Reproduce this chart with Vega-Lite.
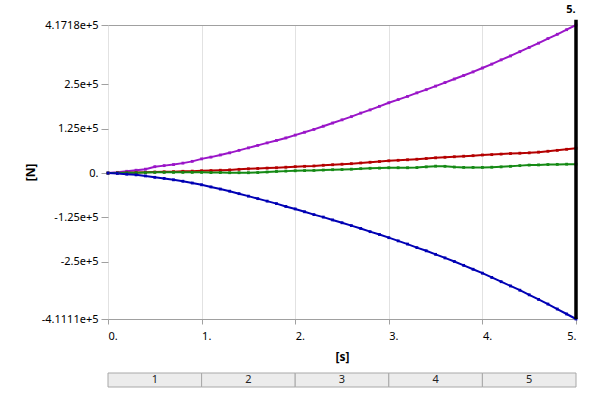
{
  "$schema": "https://vega.github.io/schema/vega-lite/v6.json",
  "padding": {"left": 24, "top": 4, "right": 10, "bottom": 5},
  "background": "white",
  "spacing": 10,
  "config": {
    "view": {"stroke": null},
    "font": "Noto Sans",
    "axis": {"labelFont": "Noto Sans", "labelFontSize": 11, "labelColor": "#000000", "titleFont": "Noto Sans", "titleColor": "#000000"}
  },
  "datasets": {
    "forces": [
      {"t":0.0,"s":"s1","v":0},{"t":0.1,"s":"s1","v":2000},{"t":0.2,"s":"s1","v":5000},{"t":0.3,"s":"s1","v":8000},{"t":0.4,"s":"s1","v":11000},{"t":0.5,"s":"s1","v":18000},{"t":0.6,"s":"s1","v":21000},{"t":0.7,"s":"s1","v":24000},{"t":0.8,"s":"s1","v":28000},{"t":0.9,"s":"s1","v":33000},
      {"t":1.0,"s":"s1","v":40000},{"t":1.1,"s":"s1","v":45000},{"t":1.2,"s":"s1","v":51000},{"t":1.3,"s":"s1","v":57000},{"t":1.4,"s":"s1","v":64000},{"t":1.5,"s":"s1","v":71000},{"t":1.6,"s":"s1","v":78000},{"t":1.7,"s":"s1","v":85000},{"t":1.8,"s":"s1","v":92000},{"t":1.9,"s":"s1","v":99000},
      {"t":2.0,"s":"s1","v":107000},{"t":2.1,"s":"s1","v":115000},{"t":2.2,"s":"s1","v":123000},{"t":2.3,"s":"s1","v":132000},{"t":2.4,"s":"s1","v":141000},{"t":2.5,"s":"s1","v":150000},{"t":2.6,"s":"s1","v":159000},{"t":2.7,"s":"s1","v":169000},{"t":2.8,"s":"s1","v":178000},{"t":2.9,"s":"s1","v":188000},
      {"t":3.0,"s":"s1","v":198000},{"t":3.1,"s":"s1","v":207000},{"t":3.2,"s":"s1","v":216000},{"t":3.3,"s":"s1","v":226000},{"t":3.4,"s":"s1","v":235000},{"t":3.5,"s":"s1","v":245000},{"t":3.6,"s":"s1","v":255000},{"t":3.7,"s":"s1","v":265000},{"t":3.8,"s":"s1","v":275000},{"t":3.9,"s":"s1","v":285000},
      {"t":4.0,"s":"s1","v":296000},{"t":4.1,"s":"s1","v":307000},{"t":4.2,"s":"s1","v":319000},{"t":4.3,"s":"s1","v":330000},{"t":4.4,"s":"s1","v":342000},{"t":4.5,"s":"s1","v":354000},{"t":4.6,"s":"s1","v":366000},{"t":4.7,"s":"s1","v":379000},{"t":4.8,"s":"s1","v":391000},{"t":4.9,"s":"s1","v":404000},{"t":5.0,"s":"s1","v":417180},

      {"t":0.0,"s":"s2","v":0},{"t":0.1,"s":"s2","v":500},{"t":0.2,"s":"s2","v":1000},{"t":0.3,"s":"s2","v":1500},{"t":0.4,"s":"s2","v":2000},{"t":0.5,"s":"s2","v":3000},{"t":0.6,"s":"s2","v":3500},{"t":0.7,"s":"s2","v":4000},{"t":0.8,"s":"s2","v":5000},{"t":0.9,"s":"s2","v":5500},
      {"t":1.0,"s":"s2","v":6500},{"t":1.1,"s":"s2","v":7000},{"t":1.2,"s":"s2","v":8000},{"t":1.3,"s":"s2","v":9000},{"t":1.4,"s":"s2","v":10500},{"t":1.5,"s":"s2","v":12000},{"t":1.6,"s":"s2","v":13000},{"t":1.7,"s":"s2","v":14000},{"t":1.8,"s":"s2","v":15000},{"t":1.9,"s":"s2","v":16500},
      {"t":2.0,"s":"s2","v":18000},{"t":2.1,"s":"s2","v":19000},{"t":2.2,"s":"s2","v":20000},{"t":2.3,"s":"s2","v":22000},{"t":2.4,"s":"s2","v":23500},{"t":2.5,"s":"s2","v":25000},{"t":2.6,"s":"s2","v":26500},{"t":2.7,"s":"s2","v":28500},{"t":2.8,"s":"s2","v":30500},{"t":2.9,"s":"s2","v":32500},
      {"t":3.0,"s":"s2","v":34500},{"t":3.1,"s":"s2","v":36000},{"t":3.2,"s":"s2","v":37500},{"t":3.3,"s":"s2","v":39000},{"t":3.4,"s":"s2","v":41000},{"t":3.5,"s":"s2","v":43000},{"t":3.6,"s":"s2","v":44500},{"t":3.7,"s":"s2","v":46000},{"t":3.8,"s":"s2","v":47500},{"t":3.9,"s":"s2","v":49000},
      {"t":4.0,"s":"s2","v":51000},{"t":4.1,"s":"s2","v":52000},{"t":4.2,"s":"s2","v":53500},{"t":4.3,"s":"s2","v":55000},{"t":4.4,"s":"s2","v":56000},{"t":4.5,"s":"s2","v":57000},{"t":4.6,"s":"s2","v":59000},{"t":4.7,"s":"s2","v":61500},{"t":4.8,"s":"s2","v":64000},{"t":4.9,"s":"s2","v":67000},{"t":5.0,"s":"s2","v":70000},

      {"t":0.0,"s":"s3","v":0},{"t":0.1,"s":"s3","v":500},{"t":0.2,"s":"s3","v":1000},{"t":0.3,"s":"s3","v":1000},{"t":0.4,"s":"s3","v":1500},{"t":0.5,"s":"s3","v":2000},{"t":0.6,"s":"s3","v":2000},{"t":0.7,"s":"s3","v":2000},{"t":0.8,"s":"s3","v":2000},{"t":0.9,"s":"s3","v":2000},
      {"t":1.0,"s":"s3","v":2000},{"t":1.1,"s":"s3","v":1500},{"t":1.2,"s":"s3","v":1500},{"t":1.3,"s":"s3","v":1000},{"t":1.4,"s":"s3","v":1000},{"t":1.5,"s":"s3","v":1000},{"t":1.6,"s":"s3","v":1500},{"t":1.7,"s":"s3","v":3000},{"t":1.8,"s":"s3","v":4500},{"t":1.9,"s":"s3","v":5500},
      {"t":2.0,"s":"s3","v":6500},{"t":2.1,"s":"s3","v":7000},{"t":2.2,"s":"s3","v":7500},{"t":2.3,"s":"s3","v":8500},{"t":2.4,"s":"s3","v":9500},{"t":2.5,"s":"s3","v":10000},{"t":2.6,"s":"s3","v":11000},{"t":2.7,"s":"s3","v":12500},{"t":2.8,"s":"s3","v":13500},{"t":2.9,"s":"s3","v":14000},
      {"t":3.0,"s":"s3","v":15000},{"t":3.1,"s":"s3","v":15000},{"t":3.2,"s":"s3","v":15000},{"t":3.3,"s":"s3","v":15500},{"t":3.4,"s":"s3","v":17500},{"t":3.5,"s":"s3","v":19500},{"t":3.6,"s":"s3","v":19000},{"t":3.7,"s":"s3","v":17000},{"t":3.8,"s":"s3","v":16000},{"t":3.9,"s":"s3","v":16000},
      {"t":4.0,"s":"s3","v":16000},{"t":4.1,"s":"s3","v":16500},{"t":4.2,"s":"s3","v":17500},{"t":4.3,"s":"s3","v":19000},{"t":4.4,"s":"s3","v":21000},{"t":4.5,"s":"s3","v":22500},{"t":4.6,"s":"s3","v":23000},{"t":4.7,"s":"s3","v":24000},{"t":4.8,"s":"s3","v":24500},{"t":4.9,"s":"s3","v":25000},{"t":5.0,"s":"s3","v":25000},

      {"t":0.0,"s":"s4","v":0},{"t":0.1,"s":"s4","v":-1000},{"t":0.2,"s":"s4","v":-3000},{"t":0.3,"s":"s4","v":-5000},{"t":0.4,"s":"s4","v":-8000},{"t":0.5,"s":"s4","v":-12000},{"t":0.6,"s":"s4","v":-15000},{"t":0.7,"s":"s4","v":-19000},{"t":0.8,"s":"s4","v":-23000},{"t":0.9,"s":"s4","v":-28000},
      {"t":1.0,"s":"s4","v":-33000},{"t":1.1,"s":"s4","v":-39000},{"t":1.2,"s":"s4","v":-45000},{"t":1.3,"s":"s4","v":-51000},{"t":1.4,"s":"s4","v":-58000},{"t":1.5,"s":"s4","v":-65000},{"t":1.6,"s":"s4","v":-72000},{"t":1.7,"s":"s4","v":-79000},{"t":1.8,"s":"s4","v":-86000},{"t":1.9,"s":"s4","v":-94000},
      {"t":2.0,"s":"s4","v":-101000},{"t":2.1,"s":"s4","v":-109000},{"t":2.2,"s":"s4","v":-117000},{"t":2.3,"s":"s4","v":-124000},{"t":2.4,"s":"s4","v":-132000},{"t":2.5,"s":"s4","v":-140000},{"t":2.6,"s":"s4","v":-148000},{"t":2.7,"s":"s4","v":-156000},{"t":2.8,"s":"s4","v":-165000},{"t":2.9,"s":"s4","v":-173000},
      {"t":3.0,"s":"s4","v":-182000},{"t":3.1,"s":"s4","v":-191000},{"t":3.2,"s":"s4","v":-200000},{"t":3.3,"s":"s4","v":-210000},{"t":3.4,"s":"s4","v":-219000},{"t":3.5,"s":"s4","v":-229000},{"t":3.6,"s":"s4","v":-239000},{"t":3.7,"s":"s4","v":-249000},{"t":3.8,"s":"s4","v":-260000},{"t":3.9,"s":"s4","v":-271000},
      {"t":4.0,"s":"s4","v":-282000},{"t":4.1,"s":"s4","v":-294000},{"t":4.2,"s":"s4","v":-306000},{"t":4.3,"s":"s4","v":-318000},{"t":4.4,"s":"s4","v":-330000},{"t":4.5,"s":"s4","v":-343000},{"t":4.6,"s":"s4","v":-356000},{"t":4.7,"s":"s4","v":-369000},{"t":4.8,"s":"s4","v":-383000},{"t":4.9,"s":"s4","v":-397000},{"t":5.0,"s":"s4","v":-411110}
    ],
    "steps": [
      {"step":"1","start":0,"end":1,"mid":0.5},
      {"step":"2","start":1,"end":2,"mid":1.5},
      {"step":"3","start":2,"end":3,"mid":2.5},
      {"step":"4","start":3,"end":4,"mid":3.5},
      {"step":"5","start":4,"end":5,"mid":4.5}
    ]
  },
  "vconcat": [
    {
      "width": 468,
      "height": 294,
      "layer": [
        {
          "data": {"name": "forces"},
          "mark": {"type": "line", "strokeWidth": 2},
          "encoding": {
            "x": {
              "field": "t", "type": "quantitative",
              "scale": {"domain": [0, 5], "nice": false, "zero": false},
              "axis": {
                "values": [0, 1, 2, 3, 4, 5],
                "labelExpr": "datum.value + '.'",
                "labelAlign": {"condition": {"test": "datum.value == 5", "value": "right"}, "value": "left"},
                "labelPadding": 6,
                "grid": true, "gridColor": "#e2e2e2",
                "domainColor": "#a0a0a0", "tickColor": "#a0a0a0", "tickSize": 5,
                "title": "[s]", "titleFontWeight": "bold", "titleFontSize": 12, "titlePadding": 10
              }
            },
            "y": {
              "field": "v", "type": "quantitative",
              "scale": {"domain": [-411110, 417180], "nice": false, "zero": false},
              "axis": {
                "values": [-411110, -250000, -125000, 0, 125000, 250000, 417180],
                "labelExpr": "datum.value == 417180 ? '4.1718e+5' : datum.value == -411110 ? '-4.1111e+5' : datum.value == 250000 ? '2.5e+5' : datum.value == 125000 ? '1.25e+5' : datum.value == 0 ? '0.' : datum.value == -125000 ? '-1.25e+5' : '-2.5e+5'",
                "labelOverlap": false,
                "labelPadding": 3,
                "domain": false,
                "grid": true, "gridColor": "#a0a0a0",
                "gridOpacity": {"condition": {"test": "datum.value == 417180", "value": 1}, "value": 0},
                "tickColor": "#a0a0a0", "tickSize": 7,
                "title": "[N]", "titleFontWeight": "bold", "titleFontSize": 12, "titlePadding": 4
              }
            },
            "color": {
              "field": "s", "type": "nominal",
              "scale": {"domain": ["s1", "s2", "s3", "s4"], "range": ["#9a16c8", "#b40000", "#158a15", "#0000b4"]},
              "legend": null
            }
          }
        },
        {
          "data": {"name": "forces"},
          "mark": {"type": "point", "shape": "square", "filled": true, "size": 8, "opacity": 1},
          "encoding": {
            "x": {"field": "t", "type": "quantitative"},
            "y": {"field": "v", "type": "quantitative"},
            "color": {"field": "s", "type": "nominal", "legend": null}
          }
        },
        {
          "data": {"values": [{}]},
          "mark": {"type": "rule", "color": "#000000", "strokeWidth": 3.5},
          "encoding": {
            "x": {"datum": 5, "type": "quantitative"},
            "y": {"datum": -411110, "type": "quantitative"},
            "y2": {"datum": 432000}
          }
        },
        {
          "data": {"values": [{}]},
          "mark": {"type": "text", "text": "5.", "fontWeight": "bold", "fontSize": 11, "dy": -15, "dx": -5, "color": "#000000"},
          "encoding": {
            "x": {"datum": 5, "type": "quantitative"},
            "y": {"datum": 417180, "type": "quantitative"}
          }
        }
      ]
    },
    {
      "width": 468,
      "height": 14,
      "data": {"name": "steps"},
      "layer": [
        {
          "mark": {"type": "rect", "fill": "#ececec", "stroke": "#a8a8a8", "strokeWidth": 1},
          "encoding": {
            "x": {"field": "start", "type": "quantitative", "scale": {"domain": [0, 5], "nice": false, "zero": false}, "axis": null},
            "x2": {"field": "end"}
          }
        },
        {
          "mark": {"type": "text", "fontSize": 11, "color": "#222222", "baseline": "middle"},
          "encoding": {
            "x": {"field": "mid", "type": "quantitative"},
            "text": {"field": "step"}
          }
        }
      ]
    }
  ]
}
